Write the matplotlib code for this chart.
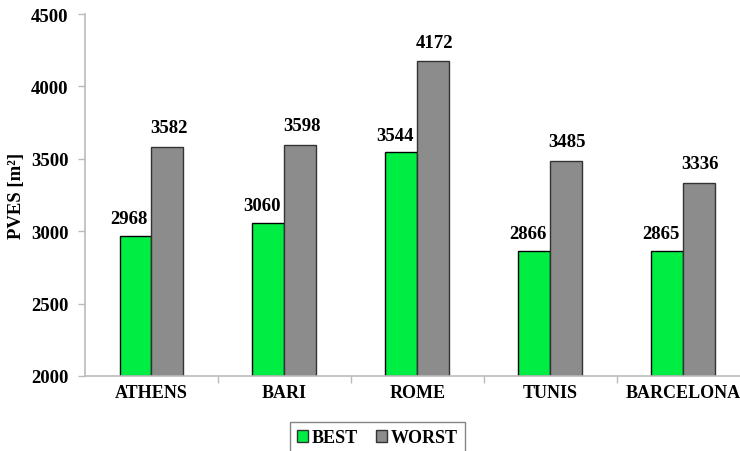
import matplotlib
matplotlib.use("Agg")
import matplotlib.pyplot as plt
from matplotlib.patches import Patch

cities = ["ATHENS", "BARI", "ROME", "TUNIS", "BARCELONA"]
best = [2968, 3060, 3544, 2866, 2865]
worst = [3582, 3598, 4172, 3485, 3336]
yticks = [2000, 2500, 3000, 3500, 4000, 4500]

plt.rcParams['font.family'] = ['Liberation Serif', 'DejaVu Serif']
plt.rcParams['font.weight'] = 'bold'

W, H = 740, 452
fig = plt.figure(figsize=(W/100, H/100), dpi=100)
ax = fig.add_axes([85/W, 1-377/H, (749.5-85)/W, (377-15)/H])

x = list(range(len(cities)))
bw = 0.24
green = "#00EE44"
gray = "#8C8C8C"
fs = 13.5
for i in x:
    ax.bar(i - bw/2, best[i] - 2000, bw, bottom=2000, color=green, edgecolor="black", linewidth=1.0)
    ax.bar(i + bw/2, worst[i] - 2000, bw, bottom=2000, color=gray, edgecolor="#333333", linewidth=1.0)
    ax.text(i - bw/2 - 0.05, best[i] + 60, str(best[i]), ha="center", va="bottom", fontsize=fs, fontweight="bold")
    ax.text(i + bw/2 + 0.01, worst[i] + 75, str(worst[i]), ha="center", va="bottom", fontsize=fs, fontweight="bold")

ax.set_xlim(-0.5, 4.5)
ax.set_ylim(2000, 4500)
ax.set_yticks(yticks)
ax.set_yticklabels([str(v) for v in yticks], fontsize=fs, fontweight="bold")
ax.set_xticks([i + 0.5 for i in range(len(cities) - 1)])
ax.set_xticklabels([])
for i, c in enumerate(cities):
    ax.text(i, 1945, c, ha="center", va="top", fontsize=13, fontweight="bold")
ax.tick_params(axis='both', color="#BBBBBB", length=5, width=1)
ax.tick_params(axis='y', pad=7)
for s in ["top", "right"]:
    ax.spines[s].set_visible(False)
for s in ["left", "bottom"]:
    ax.spines[s].set_color("#BBBBBB")
    ax.spines[s].set_linewidth(1.2)
ax.set_ylabel("PVES [m\u00b2]", fontsize=13.5, fontweight="bold", labelpad=4)

handles = [Patch(facecolor=green, edgecolor="#333333", label="BEST"),
           Patch(facecolor=gray, edgecolor="#333333", label="WORST")]
leg = fig.legend(handles=handles, loc="upper left", bbox_to_anchor=(290/W, 1-423/H), ncol=2,
                 frameon=True, fancybox=False, edgecolor="#666666", fontsize=13,
                 handlelength=0.6, handleheight=0.6, handletextpad=0.2, columnspacing=1.0,
                 borderpad=0.4, borderaxespad=0)
leg.get_frame().set_linewidth(1.0)

fig.savefig("out.png", dpi=100)
